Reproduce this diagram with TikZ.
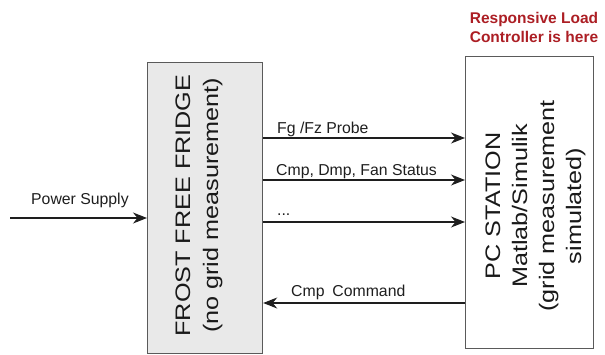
\documentclass[tikz,border=0pt]{standalone}
\usepackage{fontspec}
\setmainfont{Liberation Sans}
\usetikzlibrary{arrows.meta}

\definecolor{boxline}{RGB}{90,90,90}
\definecolor{fridgefill}{RGB}{233,233,233}
\definecolor{notered}{RGB}{172,30,36}
\definecolor{wire}{RGB}{30,30,30}

\tikzset{
  blockbox/.style={draw=boxline, line width=1.2pt, inner sep=0pt, anchor=north west},
  signal/.style={draw=wire, line width=1.1pt, -{Stealth[length=14pt,width=11pt,inset=4.5pt]}},
  siglabel/.style={font=\fontsize{15.8}{19}\selectfont, anchor=base west, inner sep=0pt, text=wire},
  bigline/.style={font=\fontsize{21}{26}\selectfont, rotate=90, anchor=base, inner sep=0pt, text=black!90},
  noteline/.style={font=\fontsize{15.5}{19}\selectfont\bfseries, anchor=base, inner sep=0pt, text=notered},
}

\begin{document}
\begin{tikzpicture}[x=1pt,y=-1pt]
\useasboundingbox (0,0) rectangle (605,354);

% the two blocks
\node[blockbox, fill=fridgefill, minimum width=115pt, minimum height=291pt] (fridge) at (147,62) {};
\node[blockbox, fill=white, minimum width=128pt, minimum height=292pt] (pc) at (465,56) {};

% rotated block titles
\node[bigline] (fridgeA) at (190,205.5) {\scalebox{1.2}[1]{FROST FREE FRIDGE}};
\node[bigline] (fridgeB) at (218,205.5) {\scalebox{1.2}[1]{(no grid measurement)}};

\node[bigline] (pcA) at (500,206) {\scalebox{1.2}[1]{PC STATION}};
\node[bigline] (pcB) at (527,206) {\scalebox{1.2}[1]{Matlab/Simulik}};
\node[bigline] (pcC) at (554,206) {\scalebox{1.2}[1]{(grid measurement}};
\node[bigline] (pcD) at (581,206) {\scalebox{1.2}[1]{simulated)}};

% note above the PC station
\node[noteline] (noteA) at (534,23) {Responsive Load};
\node[noteline] (noteB) at (534,42) {Controller is here};

% signal rows
\coordinate (rowA) at (0,138);
\coordinate (rowB) at (0,180);
\coordinate (rowC) at (0,222);
\coordinate (rowD) at (0,303);
\coordinate (psin) at (10,218);

\draw[signal] (fridge.east |- rowA) -- (pc.west |- rowA);
\draw[signal] (fridge.east |- rowB) -- (pc.west |- rowB);
\draw[signal] (fridge.east |- rowC) -- (pc.west |- rowC);
\draw[signal] (pc.west |- rowD) -- (fridge.east |- rowD);
\draw[signal] (psin) -- (fridge.west |- psin);

% signal labels
\node[siglabel] (labA) at (277,133) {Fg /Fz Probe};
\node[siglabel] (labB) at (276,175) {Cmp, Dmp, Fan Status};
\node[siglabel] (labC) at (277,215) {...};
\node[siglabel] (labD) at (291,296) {Cmp\hspace{0.5em}Command};
\node[siglabel] (labE) at (31,204.5) {Power Supply};
\end{tikzpicture}
\end{document}
